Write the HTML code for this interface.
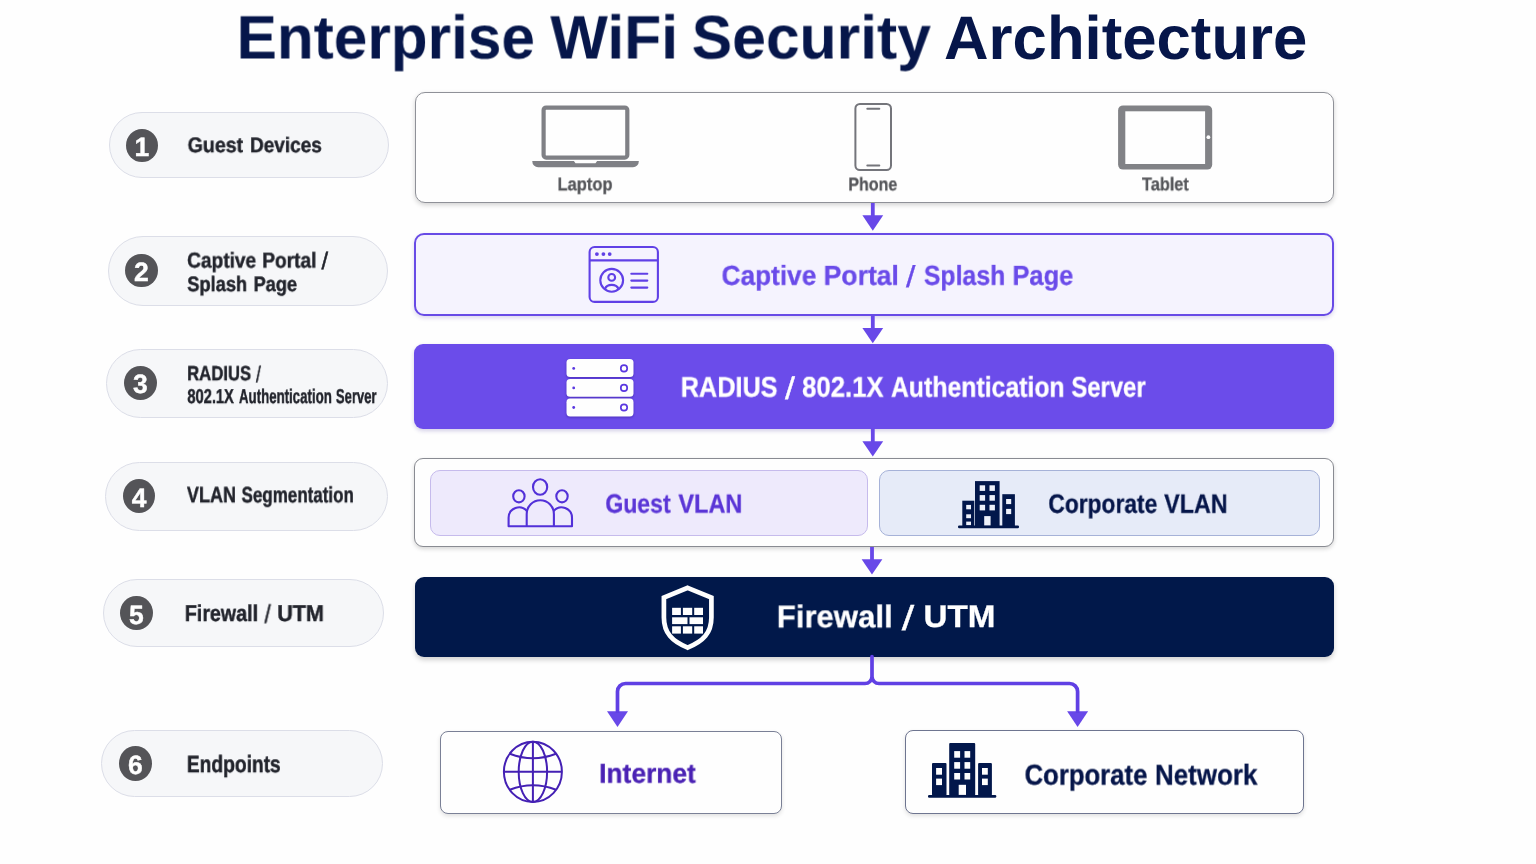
<!DOCTYPE html>
<html lang="en">
<head>
<meta charset="utf-8">
<title>Enterprise WiFi Security Architecture</title>
<style>
html,body{margin:0;padding:0}
body{width:1536px;height:864px;background:#fefefe;overflow:hidden;position:relative;font-family:'Liberation Sans',sans-serif;text-rendering:geometricPrecision}
.t{position:absolute;left:0;top:0;width:1536px;height:0;white-space:nowrap;font-weight:700;margin:0}
.t span{position:absolute;top:0;left:0;display:block;transform-origin:0 0;white-space:nowrap;will-change:transform}
.pill{position:absolute;box-sizing:border-box;background:#f6f7f9;border:1.5px solid #dcdee8;border-radius:40px}
.num{position:absolute;border-radius:50%;background:#545458;color:#fff;font-weight:700;font-size:26.5px;text-align:center;will-change:transform;-webkit-text-stroke:0.4px #fff}
.box{position:absolute;box-sizing:border-box;border-radius:9px}
.b-dev{left:414.6px;top:91.7px;width:919.6px;height:111.6px;background:#fefefe;border:1.9px solid #8f9198;border-radius:10px;box-shadow:0 2px 5px rgba(0,0,0,.18)}
.b-cap{left:413.8px;top:232.6px;width:920.2px;height:83.6px;background:#f5f3fe;border:2px solid #684be6;border-radius:10px;box-shadow:0 2px 4px rgba(60,40,160,.18)}
.b-rad{left:414px;top:344px;width:919.9px;height:84.7px;background:#6b4cea;box-shadow:0 2px 4px rgba(40,20,140,.2)}
.b-vlan{left:413.6px;top:457.7px;width:920.5px;height:89.4px;background:#fefefe;border:1.8px solid #898b92;box-shadow:0 2px 4px rgba(0,0,0,.16)}
.b-guest{left:430px;top:470.2px;width:438px;height:65.8px;background:#eeeafc;border:1.6px solid #c6bbec;border-radius:10px}
.b-corp{left:878.5px;top:470.2px;width:441.5px;height:65.8px;background:#e6ebf8;border:1.7px solid #a6b2d8;border-radius:10px}
.b-fw{left:414.5px;top:576.8px;width:919.3px;height:80px;background:#01184a;box-shadow:0 3px 5px rgba(0,0,0,.18)}
.b-int{left:440.2px;top:730.7px;width:342px;height:83.4px;background:#fefefe;border:1.6px solid #7a8096;border-radius:8px;box-shadow:0 2px 4px rgba(0,0,0,.12)}
.b-cn{left:905px;top:730.2px;width:399.2px;height:84px;background:#fefefe;border:1.6px solid #6e7590;border-radius:8px;box-shadow:0 2px 4px rgba(0,0,0,.12)}
.pl span{-webkit-text-stroke:.45px currentColor}
.bx span{-webkit-text-stroke:.3px currentColor}
.dv span{-webkit-text-stroke:.3px currentColor}
svg.art{position:absolute;left:0;top:0;width:1536px;height:864px;overflow:visible}
</style>
</head>
<body>
<!-- left step labels -->
<div class="pill" style="left:109.00px;top:112.30px;width:280.00px;height:65.40px"></div>
<div class="pill" style="left:108.10px;top:236.20px;width:280.00px;height:69.40px"></div>
<div class="pill" style="left:106.30px;top:349.00px;width:281.90px;height:68.80px"></div>
<div class="pill" style="left:105.00px;top:461.60px;width:282.90px;height:69.00px"></div>
<div class="pill" style="left:102.70px;top:579.20px;width:281.40px;height:67.70px"></div>
<div class="pill" style="left:101.00px;top:729.50px;width:281.90px;height:67.40px"></div>
<div class="num" style="left:126.45px;top:128.95px;width:31.9px;height:33.0px;line-height:36.8px">1</div>
<div class="num" style="left:125.35px;top:253.90px;width:32.5px;height:33.4px;line-height:37.2px">2</div>
<div class="num" style="left:124.00px;top:366.20px;width:32.7px;height:34.0px;line-height:37.8px">3</div>
<div class="num" style="left:122.90px;top:478.95px;width:32.3px;height:34.3px;line-height:38.1px">4</div>
<div class="num" style="left:120.40px;top:596.15px;width:32.5px;height:34.3px;line-height:38.1px">5</div>
<div class="num" style="left:119.20px;top:746.40px;width:32.8px;height:34.5px;line-height:38.3px">6</div>

<!-- main boxes -->
<div class="box b-dev"></div>
<div class="box b-cap"></div>
<div class="box b-rad"></div>
<div class="box b-vlan"></div>
<div class="box b-guest"></div>
<div class="box b-corp"></div>
<div class="box b-fw"></div>
<div class="box b-int"></div>
<div class="box b-cn"></div>

<svg class="art" width="1536" height="864" viewBox="0 0 1536 864">
<!-- arrows -->
<g fill="#6848e8" stroke="none">
<rect x="870.9" y="203" width="3.8" height="14"/><path d="M862.4 215.3h20.8l-10.4 15.4z"/>
<rect x="870.9" y="316" width="3.8" height="14"/><path d="M862.4 328h20.8l-10.4 15.2z"/>
<rect x="870.9" y="428.5" width="3.8" height="14"/><path d="M862.4 441.2h20.8l-10.4 15.2z"/>
<rect x="870.1" y="547" width="3.8" height="14"/><path d="M861.6 559.2h20.8l-10.4 15.2z"/>
<path d="M607 711.3h21l-10.5 15.6z"/>
<path d="M1067.1 711.3h21l-10.5 15.6z"/>
</g>
<g fill="none" stroke="#6040e4" stroke-width="3.7" stroke-linejoin="round">
<path d="M617.5 713v-21.5a8 8 0 0 1 8-8H865a7 7 0 0 0 7-7V656.5v20a7 7 0 0 0 7 7h190.6a8 8 0 0 1 8 8V713"/>
</g>

<!-- laptop -->
<g>
<rect x="543.6" y="107.6" width="83.7" height="50" rx="2.5" fill="#fefefe" stroke="#7f8085" stroke-width="4.2"/>
<path d="M532.3 161h41.6l1.6 2.3h20l1.6-2.3h41.7v.5a5.8 5.8 0 0 1-5.8 5.8H538.1a5.8 5.8 0 0 1-5.8-5.8z" fill="#7f8085"/>
</g>
<!-- phone -->
<g fill="none" stroke="#74757b" stroke-width="2" stroke-linecap="round">
<rect x="855.4" y="104" width="35.6" height="66" rx="4.5" fill="#fefefe"/>
<path d="M867.3 108.8h12M867.3 165.5h12"/>
</g>
<!-- tablet -->
<g>
<rect x="1118.1" y="105.4" width="94.1" height="64.2" rx="5" fill="#818286"/>
<rect x="1125.3" y="111.3" width="79.8" height="52.7" fill="#fefefe"/>
<circle cx="1208.4" cy="137.2" r="1.9" fill="#fefefe"/>
</g>

<!-- captive portal icon -->
<g fill="none" stroke="#6040e6" stroke-width="2.1" stroke-linecap="round">
<rect x="589.6" y="247" width="68.3" height="54.9" rx="5"/>
<path d="M589.6 260.4h68.3" stroke-linecap="butt"/>
<circle cx="611.7" cy="280.3" r="11.4"/>
<circle cx="611.7" cy="277.4" r="3.4"/>
<path d="M604.9 288.9C606 286.200 608.500 284.900 611.7 284.900C614.900 284.900 617.400 286.200 618.500 288.900"/>
<path d="M631.3 273.7h16M631.3 280.6h16M631.3 287.6h16"/>
</g>
<g fill="#6040e6"><circle cx="596.9" cy="254.1" r="1.9"/><circle cx="603.4" cy="254.1" r="1.9"/><circle cx="609.7" cy="254.1" r="1.9"/></g>

<!-- server icon -->
<g>

<g fill="#fefefe" style="filter:drop-shadow(0 1.200px 1.300px rgba(45,20,150,.55))">
<rect x="566.5" y="359" width="67" height="18.1" rx="3.6"/>
<rect x="566.5" y="378.9" width="67" height="17.9" rx="3.6"/>
<rect x="566.5" y="398.6" width="67" height="17.8" rx="3.6"/>
</g>
<g fill="#5a38e0"><circle cx="573.7" cy="368.4" r="1.4"/><circle cx="573.7" cy="387.9" r="1.4"/><circle cx="573.7" cy="407.5" r="1.4"/></g>
<g fill="none" stroke="#5a38e0" stroke-width="1.7"><circle cx="624" cy="368.4" r="3.2"/><circle cx="624" cy="387.9" r="3.2"/><circle cx="624" cy="407.5" r="3.2"/></g>
</g>

<!-- guest vlan icon -->
<g fill="none" stroke="#5230d8" stroke-width="2.1" stroke-linejoin="round">
<ellipse cx="540.1" cy="487" rx="7.1" ry="7.7"/>
<ellipse cx="518.9" cy="496.3" rx="5.7" ry="6.1"/>
<ellipse cx="562" cy="496.3" rx="5.7" ry="6.1"/>
<path d="M526.7 526.3V514a13.6 13.8 0 0 1 27.2 0v12.3"/>
<path d="M527 511.2A10.400 10.400 0 0 0 508.600 517.900V526.300H572V517.900A10.400 10.400 0 0 0 553.600 511.200"/>
</g>

<!-- corporate vlan building -->
<g fill="#02174b">
<rect x="958" y="525.4" width="61" height="2.8" rx="1.2"/>
<rect x="975" y="481.1" width="24.6" height="45"/>
<rect x="962.3" y="500.7" width="12" height="25.5"/>
<rect x="1002.3" y="494.2" width="12.6" height="32"/>
</g>
<g fill="#eef1fa">
<rect x="979.7" y="485.3" width="5.4" height="5.6"/><rect x="989.5" y="485.3" width="5.4" height="5.6"/>
<rect x="979.7" y="495.1" width="5.4" height="5.6"/><rect x="989.5" y="495.1" width="5.4" height="5.6"/>
<rect x="979.7" y="504.8" width="5.4" height="5.6"/><rect x="989.5" y="504.8" width="5.4" height="5.6"/>
<rect x="984.2" y="516.1" width="6.4" height="9.3"/>
<rect x="966.2" y="504.9" width="4.8" height="4.4"/><rect x="966.2" y="514.3" width="4.8" height="3.9"/><rect x="966.2" y="521.6" width="4.8" height="3.5"/>
<rect x="1006.1" y="499" width="5.1" height="5.1"/><rect x="1006.1" y="508.9" width="5.1" height="5.2"/>
</g>

<!-- firewall shield -->
<g>
<path d="M687.65 587.900L711.400 597.500V617.500C711.400 633 703 641.500 687.650 647.600C672.300 641.500 663.900 633 663.900 617.500V597.500z" fill="none" stroke="#fefefe" stroke-width="4.700" stroke-linejoin="miter"/>
<g fill="#fefefe">
<rect x="672.1" y="607.8" width="8.8" height="7.2"/><rect x="682.9" y="607.8" width="9.3" height="7.2"/><rect x="694.2" y="607.8" width="8.8" height="7.2"/>
<rect x="672.1" y="617.3" width="15.4" height="6.8"/><rect x="689.5" y="617.3" width="13.5" height="6.8"/>
<rect x="672.1" y="626.3" width="8.8" height="7.3"/><rect x="682.9" y="626.3" width="9.3" height="7.3"/><rect x="694.2" y="626.3" width="8.8" height="7.3"/>
</g>
</g>

<!-- globe -->
<g fill="none" stroke="#4420b4" stroke-width="2">
<ellipse cx="532.9" cy="771.8" rx="29" ry="30.1"/>
<ellipse cx="532.9" cy="771.8" rx="14.2" ry="30.1"/>
<path d="M532.9 741.700v60.200M503.900 771.8h58"/>
<path d="M509.800 753.8q23.100 9 46.200 0M509.800 789.800q23.100-9 46.200 0"/>
</g>

<!-- corporate network building -->
<g fill="#02174b">
<rect x="928" y="794.9" width="68.3" height="2.9" rx="1.2"/>
<rect x="949.2" y="743.1" width="26" height="52.500" rx="1"/>
<rect x="932" y="763" width="14.5" height="32.500" rx="1"/>
<rect x="978.1" y="763" width="13.800" height="32.500" rx="1"/>
</g>
<g fill="#fefefe">
<rect x="954.2" y="751.1" width="5.9" height="6.6"/><rect x="964.5" y="751.1" width="5.7" height="6.6"/>
<rect x="954.2" y="762.1" width="5.9" height="6.6"/><rect x="964.5" y="762.1" width="5.7" height="6.6"/>
<rect x="954.2" y="773" width="5.9" height="6.5"/><rect x="964.5" y="773" width="5.7" height="6.5"/>
<rect x="958.7" y="784.8" width="7.3" height="10.1"/>
<rect x="936.1" y="768" width="5.9" height="6.700"/><rect x="936.1" y="778.6" width="5.9" height="6.500"/>
<rect x="982" y="768" width="5.8" height="6.700"/><rect x="982" y="778.6" width="5.8" height="6.500"/>
</g>
</svg>


<h1 class="t title" style="font-size:61.45px;line-height:61.45px;color:#06164a"><span style="transform:translate(236.60px,7.50px) scaleX(0.9816)">Enterprise</span> <span style="transform:translate(550.33px,7.50px) scaleX(0.9901)">WiFi</span> <span style="transform:translate(691.70px,7.50px) scaleX(0.9868)">Security</span> <span style="transform:translate(944.08px,7.50px) scaleX(1.0038)">Architecture</span></h1>
<div class="t pl" style="font-size:21.19px;line-height:21.19px;color:#22242c"><span style="transform:translate(187.63px,135.14px) scaleX(0.9233)">Guest</span> <span style="transform:translate(250.01px,135.14px) scaleX(0.8970)">Devices</span></div>
<div class="t pl" style="font-size:21.53px;line-height:21.53px;color:#22242c"><span style="transform:translate(187.16px,250.52px) scaleX(0.8871)">Captive</span> <span style="transform:translate(262.27px,250.52px) scaleX(0.8887)">Portal</span> <span style="font-weight:400;transform:translate(321.44px,250.35px) scale(1.0994,1.1)">/</span></div>
<div class="t pl" style="font-size:21.04px;line-height:21.04px;color:#22242c"><span style="transform:translate(187.23px,274.17px) scaleX(0.8692)">Splash</span> <span style="transform:translate(253.54px,274.17px) scaleX(0.8660)">Page</span></div>
<div class="t pl" style="font-size:20.56px;line-height:20.56px;color:#22242c"><span style="transform:translate(187.10px,364.25px) scaleX(0.8131)">RADIUS</span> <span style="font-weight:400;transform:translate(255.93px,364.08px) scale(0.8583,1.1)">/</span></div>
<div class="t pl" style="font-size:20.19px;line-height:20.19px;color:#22242c"><span style="transform:translate(187.40px,387.10px) scaleX(0.7256)">802.1X</span> <span style="transform:translate(238.95px,387.10px) scaleX(0.6572)">Authentication</span> <span style="transform:translate(335.87px,387.10px) scaleX(0.6464)">Server</span></div>
<div class="t pl" style="font-size:22.08px;line-height:22.08px;color:#22242c"><span style="transform:translate(186.91px,484.26px) scaleX(0.8161)">VLAN</span> <span style="transform:translate(241.56px,484.26px) scaleX(0.7691)">Segmentation</span></div>
<div class="t pl" style="font-size:22.97px;line-height:22.97px;color:#22242c"><span style="transform:translate(184.80px,602.02px) scaleX(0.8562)">Firewall</span> <span style="font-weight:400;transform:translate(264.44px,601.83px) scale(0.9832,1.1)">/</span> <span style="transform:translate(277.22px,602.02px) scaleX(0.9406)">UTM</span></div>
<div class="t pl" style="font-size:23.7px;line-height:23.7px;color:#22242c"><span style="transform:translate(186.84px,754.15px) scaleX(0.8107)">Endpoints</span></div>
<div class="t dv" style="font-size:18.46px;line-height:18.46px;color:#55565a"><span style="transform:translate(557.54px,175.35px) scaleX(0.8937)">Laptop</span></div>
<div class="t dv" style="font-size:18.39px;line-height:18.39px;color:#55565a"><span style="transform:translate(848.31px,175.39px) scaleX(0.8709)">Phone</span></div>
<div class="t dv" style="font-size:18.48px;line-height:18.48px;color:#55565a"><span style="transform:translate(1141.93px,175.36px) scaleX(0.8847)">Tablet</span></div>
<div class="t bx" style="font-size:27.54px;line-height:27.54px;color:#6a4be9"><span style="transform:translate(721.51px,261.80px) scaleX(0.9528)">Captive</span> <span style="transform:translate(823.66px,261.80px) scaleX(0.9644)">Portal</span> <span style="font-weight:400;transform:translate(905.95px,261.57px) scale(1.2347,1.1)">/</span> <span style="transform:translate(923.88px,261.80px) scaleX(0.9010)">Splash</span> <span style="transform:translate(1012.49px,261.80px) scaleX(0.9234)">Page</span></div>
<div class="t bx" style="font-size:28.5px;line-height:28.5px;color:#ffffff"><span style="transform:translate(680.78px,373.64px) scaleX(0.8852)">RADIUS</span> <span style="font-weight:400;transform:translate(784.95px,373.40px) scale(1.2583,1.1)">/</span> <span style="transform:translate(802.13px,373.64px) scaleX(0.9017)">802.1X</span> <span style="transform:translate(890.93px,373.64px) scaleX(0.8707)">Authentication</span> <span style="transform:translate(1071.42px,373.64px) scaleX(0.8362)">Server</span></div>
<div class="t bx" style="font-size:26.35px;line-height:26.35px;color:#5a35d6"><span style="transform:translate(605.33px,490.59px) scaleX(0.8734)">Guest</span> <span style="transform:translate(678.41px,490.59px) scaleX(0.8900)">VLAN</span></div>
<div class="t bx" style="font-size:26.64px;line-height:26.64px;color:#06164a"><span style="transform:translate(1048.35px,490.79px) scaleX(0.8562)">Corporate</span> <span style="transform:translate(1164.16px,490.79px) scaleX(0.8755)">VLAN</span></div>
<div class="t bx" style="font-size:31.4px;line-height:31.4px;color:#ffffff"><span style="transform:translate(776.74px,601.29px) scaleX(0.9917)">Firewall</span> <span style="font-weight:400;transform:translate(901.71px,601.03px) scale(1.4295,1.1)">/</span> <span style="transform:translate(923.46px,601.29px) scaleX(1.0577)">UTM</span></div>
<div class="t bx" style="font-size:27.4px;line-height:27.4px;color:#4a22b4"><span style="transform:translate(599.18px,759.63px) scaleX(0.9625)">Internet</span></div>
<div class="t bx" style="font-size:28.84px;line-height:28.84px;color:#06164a"><span style="transform:translate(1024.54px,761.57px) scaleX(0.8920)">Corporate</span> <span style="transform:translate(1155.03px,761.57px) scaleX(0.8995)">Network</span></div>
</body>
</html>
